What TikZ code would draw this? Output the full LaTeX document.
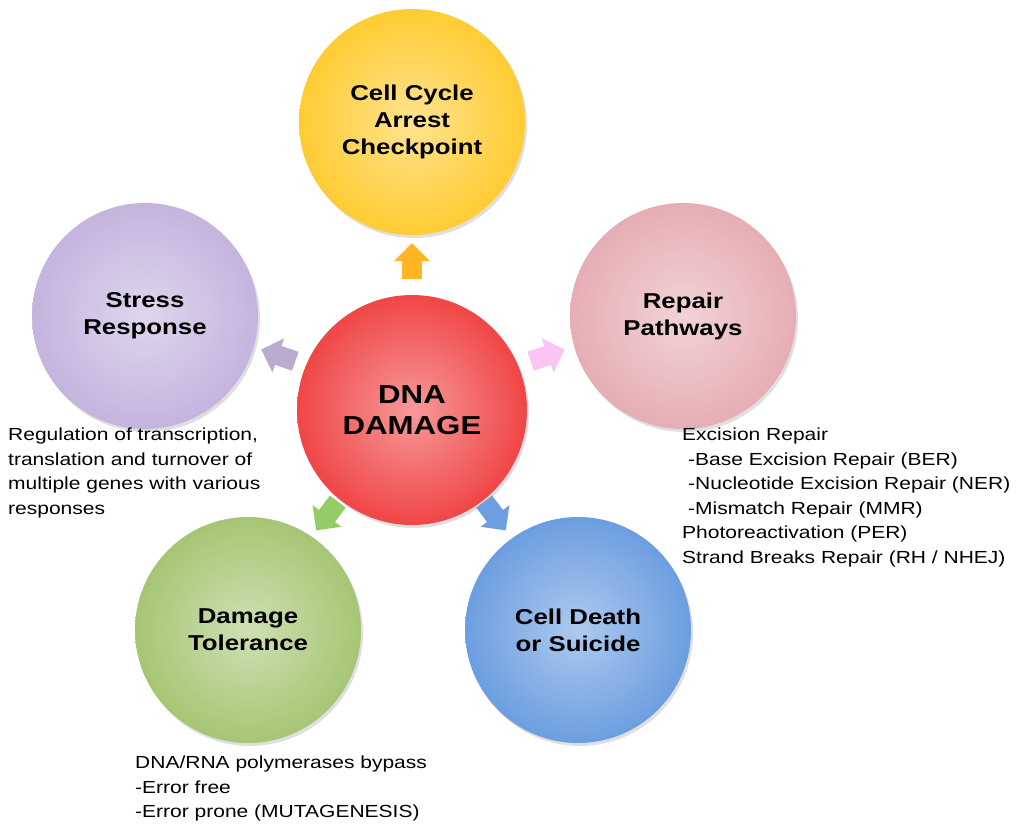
\documentclass[tikz,border=0pt]{standalone}
\usepackage{fontspec}
\setmainfont[FakeStretch=1.2]{Liberation Sans}
\usetikzlibrary{shapes.arrows,shadows}
\definecolor{cyel}{HTML}{FFCC33}
\definecolor{cpink}{HTML}{E6AEB4}
\definecolor{clav}{HTML}{C4B4DE}
\definecolor{cred}{HTML}{F04646}
\definecolor{cgreen}{HTML}{A6C674}
\definecolor{cblue}{HTML}{6C9EE0}
\begin{document}
\begin{tikzpicture}[x=1pt,y=-1pt,
  blob/.style={circle,minimum size=226pt,inner sep=0pt,align=center,font=\fontsize{21.5}{27}\selectfont\bfseries,
    shading=radial,inner color=#1!55!white,outer color=#1,drop shadow={opacity=0.25,shadow xshift=2pt,shadow yshift=-3pt}},
  arr/.style={single arrow,minimum height=36pt,minimum width=36pt,single arrow head extend=5pt,inner sep=6pt,fill=#1,draw=none},
  note/.style={anchor=north west,align=left,font=\fontsize{17.5}{24.5}\selectfont,inner sep=0pt}]
\useasboundingbox (0,0) rectangle (1024,833);
\fill[white] (0,0) rectangle (1024,833);
\node[blob=cyel] (top) at (412,122) {Cell Cycle\\Arrest\\Checkpoint};
\node[blob=cpink] (rep) at (683,316) {Repair\\Pathways};
\node[blob=clav] (str) at (145,316) {Stress\\Response};
\node[blob=cgreen] (tol) at (248,630) {Damage\\Tolerance};
\node[blob=cblue] (die) at (578,630) {Cell Death\\or Suicide};
\node[blob=cred,minimum size=230pt,font=\fontsize{26}{31}\selectfont\bfseries] (dna) at (412,410) {DNA\\DAMAGE};
\node[arr=cyel!70!orange,rotate=90] (a1) at (412,266) {};
\node[arr=clav!85!gray,rotate=161] (a2) at (283,357) {};
\node[arr=cpink!50!magenta!35!white,rotate=19] (a3) at (543,357) {};
\node[arr=cgreen!90!green,rotate=-127] (a4) at (330,512) {};
\node[arr=cblue,rotate=-53] (a5) at (492,512) {};
\node[note] (n1) at (8,428) {Regulation of transcription,\\translation and turnover of\\multiple genes with various\\responses};
\node[note] (n2) at (682,428) {Excision Repair\\\hspace*{6pt}-Base Excision Repair (BER)\\\hspace*{6pt}-Nucleotide Excision Repair (NER)\\\hspace*{6pt}-Mismatch Repair (MMR)\\Photoreactivation (PER)\\Strand Breaks Repair (RH / NHEJ)};
\node[note] (n3) at (135,756) {DNA/RNA polymerases bypass\\-Error free\\-Error prone (MUTAGENESIS)};
\end{tikzpicture}
\end{document}
